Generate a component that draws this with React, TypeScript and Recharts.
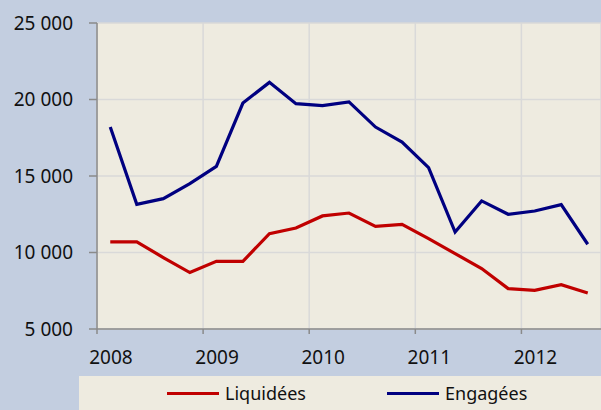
import { CartesianGrid, Line, LineChart, XAxis, YAxis } from "recharts";

// quarter midpoints, 2008 T1 .. 2012 T3
const quarters = [
  2008.125, 2008.375, 2008.625, 2008.875,
  2009.125, 2009.375, 2009.625, 2009.875,
  2010.125, 2010.375, 2010.625, 2010.875,
  2011.125, 2011.375, 2011.625, 2011.875,
  2012.125, 2012.375, 2012.625,
];

const liquidees = [
  10690, 10690, 9670, 8690, 9420, 9420, 11235, 11600, 12390, 12580,
  11710, 11840, 10910, 9930, 8950, 7640, 7530, 7900, 7350,
];

const engagees = [
  18200, 13150, 13520, 14500, 15630, 19770, 21120, 19730, 19600, 19840,
  18200, 17220, 15550, 11340, 13370, 12500, 12710, 13130, 10540,
];

const yearTicks = [2008, 2009, 2010, 2011, 2012];
const valueTicks = [5000, 10000, 15000, 20000, 25000];

const series = [
  { key: "liquidees", name: "Liquidées", color: "#c00000" },
  { key: "engagees", name: "Engagées", color: "#000080" },
];

const data = quarters.map((q, i) => ({
  q,
  liquidees: liquidees[i],
  engagees: engagees[i],
}));

const font = "'Noto Sans', sans-serif";

const fmt = (v: number) => {
  const s = String(v);
  return s.length > 3 ? s.slice(0, -3) + " " + s.slice(-3) : s;
};

const YearTick = (props: any) => {
  const { x, y, payload } = props;
  return (
    <text x={x + 14} y={y} dy="0.71em" textAnchor="middle" fill="#111" fontSize={19} fontFamily={font}>
      {payload.value}
    </text>
  );
};

export default function App() {
  return (
    <div style={{ position: "absolute", left: 0, top: 0, width: 601, height: 410, background: "#c3cee0", overflow: "hidden" }}>
      <LineChart width={601} height={410} data={data} margin={{ top: 23, right: 0, left: 0, bottom: 0 }}>
        <CartesianGrid fill="#eeebe0" stroke="#d9d9d9" strokeWidth={1.5} vertical horizontal />
        <XAxis
          dataKey="q"
          type="number"
          domain={[2008, 2012.75]}
          ticks={yearTicks}
          height={81}
          tickSize={5}
          tickMargin={17}
          stroke="#8a8a8a"
          strokeWidth={1.5}
          tick={<YearTick />}
          allowDataOverflow
        />
        <YAxis
          domain={[5000, 25000]}
          ticks={valueTicks}
          width={97}
          tickSize={8}
          tickMargin={16}
          stroke="#8a8a8a"
          strokeWidth={1.5}
          tickFormatter={fmt}
          tick={{ fill: "#111", fontSize: 19, fontFamily: font }}
        />
        {series.map((s) => (
          <Line
            key={s.key}
            dataKey={s.key}
            name={s.name}
            stroke={s.color}
            strokeWidth={3.2}
            dot={false}
            type="linear"
            isAnimationActive={false}
          />
        ))}
      </LineChart>
      <div
        style={{
          position: "absolute",
          left: 79,
          top: 376,
          width: 522,
          height: 34,
          background: "#eeebe0",
          fontFamily: font,
          fontSize: 18,
          color: "#111",
        }}
      >
        {series.map((s, i) => (
          <div key={s.key} style={{ position: "absolute", left: i === 0 ? 88 : 308, top: 0, height: 34, display: "flex", alignItems: "center" }}>
            <span style={{ display: "inline-block", width: 52, height: 3, background: s.color, marginRight: 6 }} />
            <span>{s.name}</span>
          </div>
        ))}
      </div>
    </div>
  );
}
